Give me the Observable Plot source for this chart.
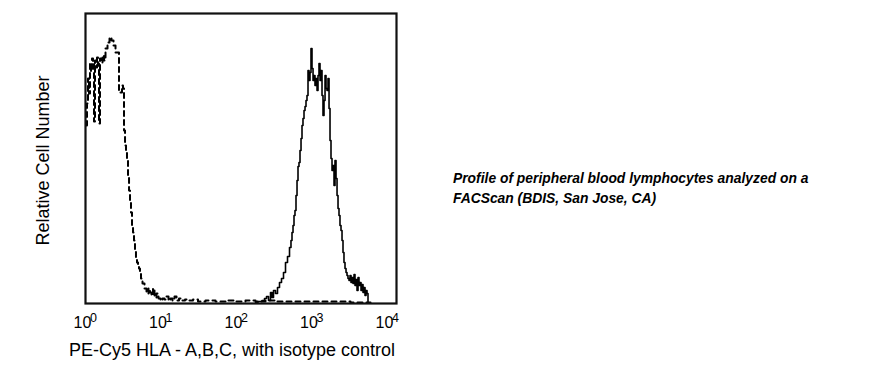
<!DOCTYPE html>
<html>
<head>
<meta charset="utf-8">
<script src="https://cdn.jsdelivr.net/npm/d3@7"></script>
<script src="https://cdn.jsdelivr.net/npm/@observablehq/plot@0.6"></script>
<style>
  html, body { margin: 0; padding: 0; background: #fff; }
  #wrap { position: relative; width: 892px; height: 384px; }
  #caption {
    position: absolute; left: 453px; top: 168px;
    font-family: "Liberation Sans", Arial, sans-serif;
    font-size: 13.85px; line-height: 20px; font-weight: bold; font-style: italic; color: #000;
    white-space: nowrap;
  }
</style>
</head>
<body>
<div id="wrap"><div id="caption">Profile of peripheral blood lymphocytes analyzed on a<br>FACScan (BDIS, San Jose, CA)</div></div>
<script>
// Isotype control (dashed): log10 fluorescence and relative counts
const isoLog = [0.013,0.026,0.040,0.053,0.066,0.079,0.093,0.106,0.119,0.132,0.146,0.159,0.172,0.185,0.199,0.212,0.238,0.252,0.278,0.305,0.331,0.358,0.384,0.411,0.437,0.450,0.477,0.490,0.503,0.517,0.530,0.543,0.556,0.570,0.583,0.596,0.609,0.623,0.636,0.649,0.662,0.675,0.689,0.702,0.715,0.728,0.742,0.768,0.795,0.821,0.848,0.861,0.887,0.901,0.927,0.954,0.980,1.007,1.033,1.060,1.086,1.113,1.139,1.166,1.192,1.219,1.258,1.298,1.338,1.391,1.457,1.523,1.656,1.788,1.921,2.053,2.185,2.318,2.450,2.583,2.848,3.113,3.377,3.642,3.775];
const isoCount = [178,200,225,210,240,232,245,240,182,243,236,246,240,180,245,241,248,243,255,261,266,263,258,251,251,213,211,218,215,173,158,153,143,128,113,103,91,78,71,63,53,45,41,37,35,31,25,20,15,10,15,11,8,15,6,10,5,3,5,4,7,3,5,3,7,3,5,3,4,3,4,2,3,2,3,2,3,2,3,2,2,2,2,1,1];

// PE-Cy5 HLA-A,B,C (solid)
const hlaLog = [2.252,2.318,2.358,2.384,2.411,2.437,2.464,2.477,2.503,2.530,2.556,2.583,2.609,2.636,2.662,2.689,2.715,2.728,2.742,2.755,2.768,2.781,2.795,2.808,2.821,2.834,2.848,2.861,2.874,2.887,2.901,2.914,2.927,2.940,2.954,2.967,2.980,2.993,3.007,3.020,3.033,3.046,3.060,3.073,3.086,3.099,3.113,3.126,3.139,3.152,3.166,3.179,3.192,3.205,3.219,3.232,3.245,3.258,3.272,3.285,3.298,3.311,3.325,3.338,3.351,3.364,3.377,3.391,3.404,3.417,3.430,3.444,3.457,3.470,3.483,3.497,3.510,3.523,3.536,3.550,3.563,3.576,3.589,3.603,3.616,3.629,3.642,3.656,3.669,3.682,3.695,3.709,3.722,3.735,3.748];
const hlaCount = [1,2,3,5,7,3,11,6,13,10,16,21,25,31,41,47,56,63,71,78,88,93,108,123,137,141,153,165,178,185,193,197,203,208,233,223,231,255,235,223,228,218,225,213,228,240,223,233,208,188,203,228,215,213,225,195,163,145,133,138,118,143,125,108,95,88,78,73,63,51,41,35,31,28,25,23,28,21,26,20,29,18,24,13,26,18,21,13,19,11,16,8,13,10,1];

const tickExponents = [0, 1, 2, 3, 4];
const xAxisLabel = "PE-Cy5 HLA - A,B,C, with isotype control";
const yAxisLabel = "Relative Cell Number";

const iso = isoLog.map((v, i) => ({x: Math.pow(10, v), y: isoCount[i]}));
const hla = hlaLog.map((v, i) => ({x: Math.pow(10, v), y: hlaCount[i]}));
const ticks = tickExponents.map(e => ({x: Math.pow(10, e), e}));

const font = "'Liberation Sans', Arial, sans-serif";

const chart = Plot.plot({
  width: 892,
  height: 384,
  marginLeft: 85,
  marginRight: 496,
  marginTop: 13,
  marginBottom: 81,
  style: {fontFamily: font, background: "#fff", color: "#000"},
  x: {type: "log", domain: [1, Math.pow(10, 4.119)], axis: null},
  y: {domain: [0, 290], axis: null},
  marks: [
    Plot.lineY(iso, {x: "x", y: "y", curve: "step", stroke: "#000", strokeWidth: 2, strokeDasharray: "5,4"}),
    Plot.lineY(hla, {x: "x", y: "y", curve: "step", stroke: "#000", strokeWidth: 1.6}),
    Plot.frame({stroke: "#111", strokeWidth: 2.2}),
    Plot.text(ticks, {x: "x", frameAnchor: "bottom", text: () => "10", textAnchor: "middle", lineAnchor: "bottom", dx: -3, dy: 24, fontSize: 16, fill: "#000"}),
    Plot.text(ticks, {x: "x", frameAnchor: "bottom", text: d => String(d.e), textAnchor: "start", lineAnchor: "bottom", dx: 4.5, dy: 18, fontSize: 12.5, fill: "#000"}),
    Plot.text([xAxisLabel], {frameAnchor: "bottom", text: d => d, textAnchor: "middle", lineAnchor: "bottom", dx: -9, dy: 52, fontSize: 18, fill: "#000"}),
    Plot.text([yAxisLabel], {frameAnchor: "left", text: d => d, rotate: -90, textAnchor: "middle", dx: -42, dy: 2, fontSize: 18, fill: "#000"})
  ]
});
document.getElementById("wrap").prepend(chart);
chart.style.position = "absolute";
chart.style.left = "0";
chart.style.top = "0";
</script>
</body>
</html>
